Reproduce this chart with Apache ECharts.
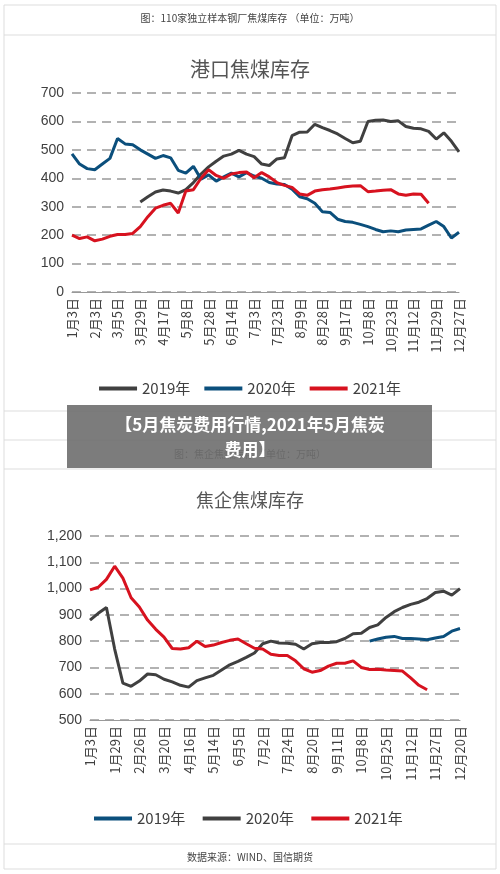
<!DOCTYPE html>
<html><head><meta charset="utf-8">
<script src="https://cdn.jsdelivr.net/npm/echarts@6/dist/echarts.min.js"></script>
<style>html,body{margin:0;padding:0;background:#fff}#c{width:500px;height:874px}</style>
</head><body><div id="c"></div>
<script>
// Chart 1: 港口焦煤库存 (weekly points, one tick label every 3 points)
const ticks1 = ['1月3日','2月3日','3月5日','3月29日','4月17日','5月8日','5月28日','6月14日','7月3日','7月23日','8月9日','8月28日','9月17日','10月8日','10月23日','11月12日','11月29日','12月27日'];
const port2019 = [null,null,null,null,null,null,null,null,null,317,335,352,359,355,348,360,385,415,440,460,478,485,498,485,476,450,445,468,472,550,562,563,590,578,568,556,540,525,530,600,604,605,600,602,582,576,574,565,538,560,530,493];
const port2020 = [486,450,434,430,450,470,540,521,518,500,485,470,480,472,428,418,442,397,412,390,405,418,405,420,408,400,385,380,378,362,335,328,312,282,280,256,248,245,238,230,220,212,215,212,218,220,222,235,248,230,190,210];
const port2021 = [200,188,194,180,186,196,202,202,206,230,265,295,305,312,278,355,360,400,430,410,400,415,420,422,402,420,405,385,375,368,345,340,355,360,362,366,370,373,374,353,355,358,360,345,340,345,344,312];
// Chart 2: 焦企焦煤库存
const ticks2 = ['1月3日','1月29日','2月26日','3月20日','4月16日','5月14日','6月5日','7月2日','7月24日','8月20日','9月11日','10月8日','10月25日','11月12日','11月27日','12月20日'];
const coke2019 = [null,null,null,null,null,null,null,null,null,null,null,null,null,null,null,null,null,null,null,null,null,null,null,null,null,null,null,null,null,null,null,null,null,null,800,808,815,818,810,810,808,805,812,818,838,848];
const coke2020 = [880,906,928,770,640,628,648,675,672,655,645,632,625,650,660,670,690,710,723,738,755,790,800,793,792,788,770,790,795,795,798,810,828,830,852,862,890,912,928,940,948,962,985,990,975,1000];
const coke2021 = [995,1005,1035,1085,1040,965,930,880,845,815,772,770,775,800,780,785,795,803,808,790,773,770,750,745,745,725,695,682,688,705,716,716,725,700,692,693,690,688,686,660,632,615];

const cats1 = ticks1.flatMap(t => [t, '', '']).slice(0, 52);
const cats2 = ticks2.flatMap(t => [t, '', '']).slice(0, 46);

const GRAY = '#404040', BLUE = '#0b4f7c', RED = '#d7121f';
const ff = '"Noto Sans CJK SC", "Liberation Sans", sans-serif';
const lab = {color:'#404040', fontSize:14, fontFamily:'"Liberation Sans", sans-serif'};
const xlab = {color:'#404040', fontSize:13, rotate:90, interval:(i,v)=>v!=='', fontFamily:ff, margin:6};
const line = (name, data, color, xi) => ({type:'line', name, data, xAxisIndex:xi, yAxisIndex:xi, symbol:'none', connectNulls:false, lineStyle:{width:3, color}, itemStyle:{color}, animation:false});

const chart = echarts.init(document.getElementById('c'));
chart.setOption({
  animation:false,
  grid:[{left:72, right:41, top:93, height:199, containLabel:false},
        {left:90, right:40, top:536, height:184, containLabel:false}],
  title:[
    {text:'港口焦煤库存', left:'center', top:54, textStyle:{fontSize:20, fontWeight:'normal', color:'#555', fontFamily:'"Noto Sans CJK SC", serif'}},
    {text:'焦企焦煤库存', left:'center', top:486, textStyle:{fontSize:18, fontWeight:'normal', color:'#555', fontFamily:'"Noto Sans CJK SC", serif'}}
  ],
  xAxis:[
    {type:'category', gridIndex:0, data:cats1, boundaryGap:false, axisTick:{show:false}, axisLine:{lineStyle:{color:'#999'}}, axisLabel:xlab},
    {type:'category', gridIndex:1, data:cats2, boundaryGap:false, axisTick:{show:false}, axisLine:{lineStyle:{color:'#999'}}, axisLabel:xlab}
  ],
  yAxis:[
    {type:'value', gridIndex:0, min:0, max:700, interval:100, axisLabel:lab, splitLine:{lineStyle:{type:[9,6], color:'#999', width:1.5}}},
    {type:'value', gridIndex:1, min:500, max:1200, interval:100, axisLabel:Object.assign({}, lab, {formatter:v=>v.toLocaleString('en-US')}), splitLine:{lineStyle:{type:[9,6], color:'#999', width:1.5}}}
  ],
  legend:[
    {top:376, left:'center', data:['2019年','2020年','2021年'], icon:'rect', itemWidth:38, itemHeight:4, itemGap:14, textStyle:{fontSize:15, color:'#404040', fontFamily:ff}},
    {top:806, left:'center', data:['2019年 ','2020年 ','2021年 '], icon:'rect', itemWidth:38, itemHeight:4, itemGap:14, textStyle:{fontSize:15, color:'#404040', fontFamily:ff}}
  ],
  series:[
    line('2019年', port2019, GRAY, 0), line('2020年', port2020, BLUE, 0), line('2021年', port2021, RED, 0),
    line('2019年 ', coke2019, BLUE, 1), line('2020年 ', coke2020, GRAY, 1), line('2021年 ', coke2021, RED, 1)
  ],
  graphic:[
    {type:'rect', shape:{x:4, y:5, width:492, height:864}, style:{fill:'none', stroke:'#ddd', lineWidth:1}, silent:true},
    {type:'line', shape:{x1:4, y1:35, x2:496, y2:35}, style:{stroke:'#ddd'}},
    {type:'line', shape:{x1:4, y1:411, x2:496, y2:411}, style:{stroke:'#ddd'}},
    {type:'line', shape:{x1:4, y1:440, x2:496, y2:440}, style:{stroke:'#ddd'}},
    {type:'line', shape:{x1:4, y1:469, x2:496, y2:469}, style:{stroke:'#ddd'}},
    {type:'line', shape:{x1:4, y1:844, x2:496, y2:844}, style:{stroke:'#ddd'}},
    {type:'text', left:'center', top:13, style:{text:'图：110家独立样本钢厂焦煤库存 （单位：万吨）', fontSize:10, fill:'#444', fontFamily:ff}},
    {type:'text', left:'center', top:449, style:{text:'图：焦企焦煤库存 （单位：万吨）', fontSize:10, fill:'#444', fontFamily:ff}},
    {type:'text', left:'center', top:852, style:{text:'数据来源：WIND、国信期货', fontSize:10, fill:'#444', fontFamily:ff}},
    {type:'rect', shape:{x:67, y:405, width:365, height:63}, style:{fill:'rgba(110,110,110,0.9)'}, z:100},
    {type:'text', x:250, y:412, z:101, style:{text:'【5月焦炭费用行情,2021年5月焦炭\n费用】', fontSize:17, fontWeight:'bold', fill:'#fff', align:'center', verticalAlign:'top', lineHeight:25, fontFamily:ff}}
  ]
});
</script></body></html>
